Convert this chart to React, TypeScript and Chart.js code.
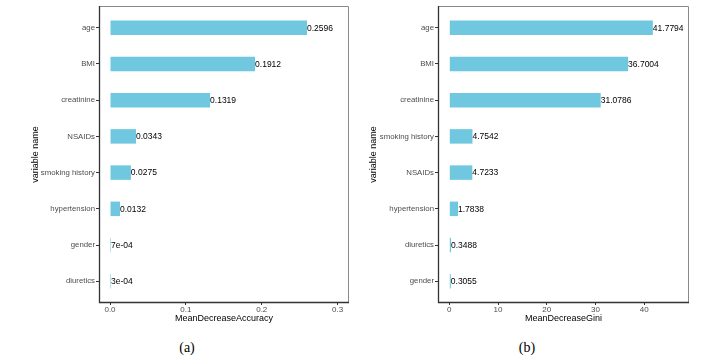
import React, { useEffect, useRef } from "react";
import { Chart, registerables } from "chart.js";

Chart.register(...registerables);

// Panel (a): MeanDecreaseAccuracy
const namesA = ["age", "BMI", "creatinine", "NSAIDs", "smoking history", "hypertension", "gender", "diuretics"];
const valuesA = [0.2596, 0.1912, 0.1319, 0.0343, 0.0275, 0.0132, 0.0007, 0.0003];
const labelsA = ["0.2596", "0.1912", "0.1319", "0.0343", "0.0275", "0.0132", "7e-04", "3e-04"];
const ticksA = [0, 0.1, 0.2, 0.3];
const tickTextA = ["0.0", "0.1", "0.2", "0.3"];

// Panel (b): MeanDecreaseGini
const namesB = ["age", "BMI", "creatinine", "smoking history", "NSAIDs", "hypertension", "diuretics", "gender"];
const valuesB = [41.7794, 36.7004, 31.0786, 4.7542, 4.7233, 1.7838, 0.3488, 0.3055];
const labelsB = ["41.7794", "36.7004", "31.0786", "4.7542", "4.7233", "1.7838", "0.3488", "0.3055"];
const ticksB = [0, 10, 20, 30, 40];
const tickTextB = ["0", "10", "20", "30", "40"];

const BAR = "#6FC8DF";
const FONT = "'Liberation Sans', Arial, Helvetica, sans-serif";
const H = 330;
const PLOT_TOP = 6;
const PLOT_BOTTOM = 303;

type PanelProps = {
  names: string[];
  values: number[];
  labels: string[];
  ticks: number[];
  tickText: string[];
  xMin: number;
  xMax: number;
  xTitle: string;
  left: number;
  width: number;
  axisW: number;
  padRight: number;
  yTitlePad: number;
};

function Panel(p: PanelProps) {
  const ref = useRef<HTMLCanvasElement>(null);
  useEffect(() => {
    if (!ref.current) return;
    const frame = {
      id: "frame",
      afterDatasetsDraw(chart: any) {
        const { ctx } = chart;
        const meta = chart.getDatasetMeta(0);
        ctx.save();
        ctx.fillStyle = "#000";
        ctx.font = `8.5px ${FONT}`;
        ctx.textAlign = "left";
        ctx.textBaseline = "middle";
        meta.data.forEach((el: any, i: number) => {
          ctx.fillText(p.labels[i], el.x, el.y + 0.5);
        });
        ctx.restore();
      },
      afterDraw(chart: any) {
        const { ctx, chartArea: a } = chart;
        ctx.save();
        ctx.strokeStyle = "#8a8a8a";
        ctx.lineWidth = 1;
        ctx.beginPath();
        ctx.moveTo(a.left, a.top + 0.5);
        ctx.lineTo(a.right - 0.5, a.top + 0.5);
        ctx.lineTo(a.right - 0.5, a.bottom);
        ctx.stroke();
        ctx.strokeStyle = "#333";
        ctx.lineWidth = 1.3;
        ctx.beginPath();
        ctx.moveTo(a.left + 0.5, a.top);
        ctx.lineTo(a.left + 0.5, a.bottom - 0.5);
        ctx.lineTo(a.right, a.bottom - 0.5);
        ctx.stroke();
        ctx.restore();
      },
    };
    const chart = new Chart(ref.current, {
      type: "bar",
      data: {
        datasets: [
          {
            data: p.values.map((v, i) => ({ x: v, y: i })) as any,
            backgroundColor: BAR,
            borderWidth: 0,
            barPercentage: 0.4,
            categoryPercentage: 1,
            minBarLength: 1,
          },
        ],
      },
      options: {
        indexAxis: "y",
        animation: false,
        responsive: false,
        devicePixelRatio: 1,
        events: [],
        layout: { padding: { top: PLOT_TOP, left: 0, right: p.padRight, bottom: 0 } },
        plugins: { legend: { display: false }, tooltip: { enabled: false } },
        scales: {
          x: {
            type: "linear",
            min: p.xMin,
            max: p.xMax,
            afterBuildTicks: (s: any) => {
              s.ticks = p.ticks.map((v) => ({ value: v }));
            },
            afterFit: (s: any) => {
              s.height = H - PLOT_BOTTOM;
            },
            ticks: {
              callback: (_v: any, i: number) => p.tickText[i],
              font: { size: 8, family: FONT },
              color: "#4D4D4D",
              padding: 0,
              maxRotation: 0,
              autoSkip: false,
            },
            grid: { display: true, drawOnChartArea: false, drawTicks: true, tickLength: 2, color: "#333" },
            border: { display: false },
            title: {
              display: true,
              text: p.xTitle,
              font: { size: 9, family: FONT },
              color: "#000",
              padding: { top: 0, bottom: 6 },
            },
          },
          y: {
            type: "linear",
            reverse: true,
            offset: false,
            min: -0.6,
            max: p.names.length - 0.4,
            afterBuildTicks: (s: any) => {
              s.ticks = p.names.map((_n, i) => ({ value: i }));
            },
            afterFit: (s: any) => {
              s.width = p.axisW;
            },
            ticks: {
              callback: (v: any) => p.names[v as number],
              font: { size: 7.8, family: FONT },
              color: "#4D4D4D",
              padding: 1,
              autoSkip: false,
            },
            grid: { display: true, offset: false, drawOnChartArea: false, drawTicks: true, tickLength: 3, color: "#333" },
            border: { display: false },
            title: {
              display: true,
              text: "variable name",
              font: { size: 9, family: FONT },
              color: "#000",
              padding: { top: p.yTitlePad, bottom: 0 },
            },
          },
        },
      } as any,
      plugins: [frame],
    });
    return () => chart.destroy();
  }, []);
  return (
    <canvas
      ref={ref}
      width={p.width}
      height={H}
      style={{ position: "absolute", left: p.left, top: 0, width: p.width, height: H }}
    />
  );
}

const captionStyle: React.CSSProperties = {
  position: "absolute",
  top: 340,
  width: 40,
  marginLeft: -20,
  textAlign: "center",
  fontFamily: "'Liberation Serif', 'Times New Roman', serif",
  fontSize: 14,
  lineHeight: "16px",
  color: "#000",
};

export default function App() {
  useEffect(() => {
    document.body.style.margin = "0";
  }, []);
  return (
    <div style={{ position: "relative", width: 725, height: 364, background: "#fff", overflow: "hidden" }}>
      <Panel
        names={namesA}
        values={valuesA}
        labels={labelsA}
        ticks={ticksA}
        tickText={tickTextA}
        xMin={-0.0145}
        xMax={0.315}
        xTitle="MeanDecreaseAccuracy"
        left={0}
        width={362}
        axisW={99}
        padRight={13}
        yTitlePad={30}
      />
      <Panel
        names={namesB}
        values={valuesB}
        labels={labelsB}
        ticks={ticksB}
        tickText={tickTextB}
        xMin={-2.32}
        xMax={49.2}
        xTitle="MeanDecreaseGini"
        left={362}
        width={363}
        axisW={76}
        padRight={36}
        yTitlePad={6}
      />
      <div style={{ ...captionStyle, left: 187 }}>(a)</div>
      <div style={{ ...captionStyle, left: 527 }}>(b)</div>
    </div>
  );
}
